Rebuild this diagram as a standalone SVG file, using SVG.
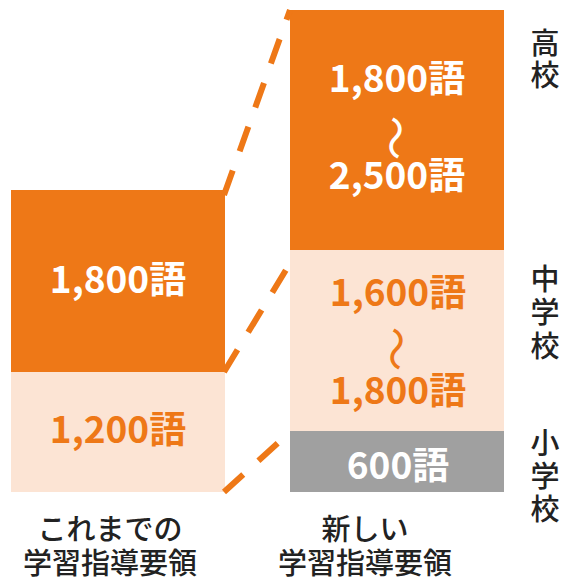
<svg xmlns="http://www.w3.org/2000/svg" width="564" height="580" viewBox="0 0 564 580">
  <style>
    .num { font-family: "Noto Sans CJK JP", "Noto Sans", sans-serif; font-weight: 700; font-size: 37px; text-anchor: middle; }
    .wave { font-family: "Noto Sans CJK JP", sans-serif; font-weight: 400; font-size: 45px; text-anchor: middle; dominant-baseline: central; }
    .w { fill: #ffffff; }
    .o { fill: #EE7817; }
    .lbl { font-family: "Noto Sans CJK JP", "Noto Sans", sans-serif; font-weight: 500; font-size: 29px; fill: #222222; text-anchor: middle; }
    .vlbl { font-family: "Noto Sans CJK JP", "Noto Sans", sans-serif; font-weight: 500; font-size: 29px; fill: #222222; writing-mode: vertical-rl; text-anchor: start; }
    .dash { fill: none; stroke: #EE7817; stroke-width: 6; stroke-dasharray: 26 20.5; stroke-linecap: butt; }
  </style>
  <rect width="564" height="580" fill="#ffffff"/>

  <g id="old-chugaku">
    <rect x="11" y="190" width="214" height="182" fill="#EE7817"/>
    <text class="num w" x="118" y="293">1,800語</text>
  </g>
  <g id="old-shogaku">
    <rect x="11" y="372" width="214" height="120" fill="#FCE4D4"/>
    <text class="num o" x="118" y="443">1,200語</text>
  </g>

  <g id="new-koko">
    <rect x="290" y="10" width="214" height="240" fill="#EE7817"/>
    <text class="num w" x="397" y="92">1,800語</text>
    <text class="wave w" transform="translate(397,138) rotate(90)">〜</text>
    <text class="num w" x="397" y="189">2,500語</text>
  </g>
  <g id="new-chugaku">
    <rect x="290" y="250" width="214" height="181" fill="#FCE4D4"/>
    <text class="num o" x="398" y="306">1,600語</text>
    <text class="wave o" transform="translate(398,349) rotate(90)">〜</text>
    <text class="num o" x="398" y="404">1,800語</text>
  </g>
  <g id="new-shogaku">
    <rect x="290" y="431" width="214" height="61" fill="#A0A0A0"/>
    <text class="num w" x="398" y="479">600語</text>
  </g>

  <g id="connectors">
    <line class="dash" x1="224" y1="195" x2="290" y2="10"/>
    <line class="dash" x1="224" y1="372" x2="289" y2="265"/>
    <line class="dash" x1="224" y1="492" x2="290" y2="432"/>
  </g>

  <g id="label-old">
    <text class="lbl" x="110" y="540">これまでの<tspan x="110" dy="34">学習指導要領</tspan></text>
  </g>
  <g id="label-new">
    <text class="lbl" x="365" y="540">新しい<tspan x="365" dy="34">学習指導要領</tspan></text>
  </g>

  <g id="label-koko">
    <text class="vlbl" x="545" y="28" letter-spacing="3.5">高校</text>
  </g>
  <g id="label-chugaku">
    <text class="vlbl" x="545" y="264" letter-spacing="4.5">中学校</text>
  </g>
  <g id="label-shogaku">
    <text class="vlbl" x="545" y="428" letter-spacing="4">小学校</text>
  </g>
</svg>
